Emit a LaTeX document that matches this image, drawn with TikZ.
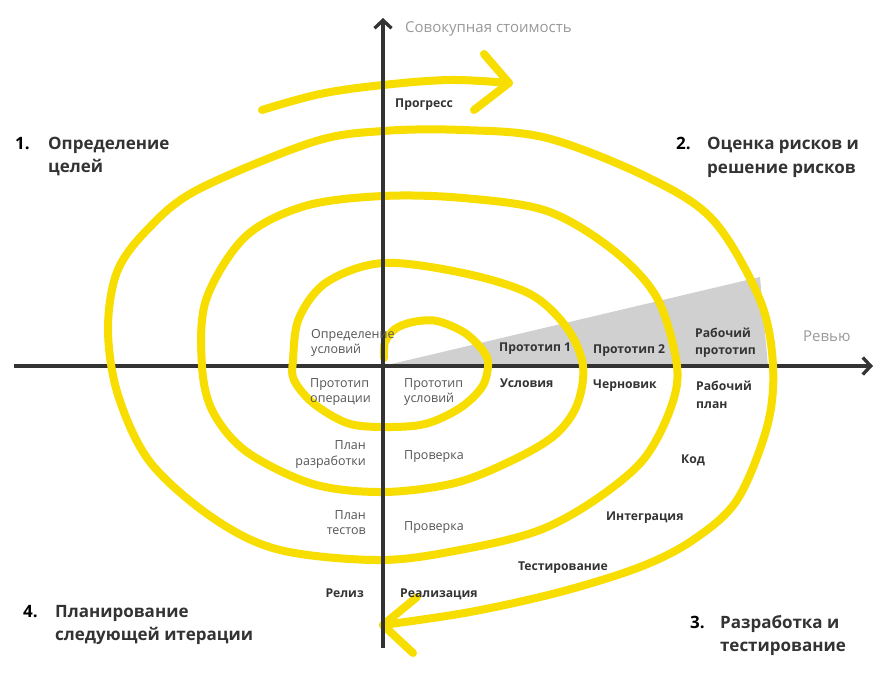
\documentclass[tikz,border=0pt]{standalone}
\usepackage{fontspec}
\setmainfont{Open Sans}
\usetikzlibrary{arrows.meta}
\definecolor{spiralyellow}{HTML}{F7DE00}
\definecolor{axisgray}{HTML}{333333}
\definecolor{wedgegray}{HTML}{D0D0D0}
\definecolor{labelgray}{HTML}{9A9A9A}
\definecolor{textdark}{HTML}{333333}
\definecolor{textlight}{HTML}{555555}
\begin{document}
\begin{tikzpicture}[x=1pt,y=-1pt,
  axisline/.style={draw=axisgray, line width=3.3pt, -{Straight Barb[length=8pt,width=17pt,line width=3.3pt]}},
  spiralline/.style={draw=spiralyellow, line width=8pt, line cap=round, line join=round},
  boldlabel/.style={font=\fontsize{12.2}{15}\selectfont\bfseries, text=textdark, inner sep=0pt},
  lightlabel/.style={font=\fontsize{12.5}{15}\selectfont, text=textlight, inner sep=0pt},
  axislabel/.style={font=\fontsize{15}{18}\selectfont, text=labelgray, inner sep=0pt, anchor=base west},
  heading/.style={font=\fontsize{17}{23}\selectfont\bfseries, text=textdark, inner sep=0pt, anchor=base west},
  headnum/.style={font=\fontsize{17}{23}\selectfont\bfseries, text=black, inner sep=0pt, anchor=base west},
]
\useasboundingbox (0,0) rectangle (883,680);
\fill[white] (0,0) rectangle (883,680);

% coordinates
\coordinate (o) at (383,366);
\coordinate (xl) at (14,366);
\coordinate (xr) at (873,366);
\coordinate (yb) at (383,648);
\coordinate (yt) at (383,18);
\coordinate (wa) at (760,277);
\coordinate (wb) at (768,366);

% grey wedge
\fill[wedgegray] (o) -- (wa) -- (wb) -- cycle;

% horizontal axis
\draw[axisline] (xl) -- (xr);

% spiral
\draw[spiralline] plot[smooth, tension=0.55] coordinates {
(384,358) (385,342) (395,329) (413,322) (437,321) (465,333) (484,352) (488,366)
(482,387) (460,408) (425,424) (383,427) (347,423) (313,403) (294,380) (293,360)
(299,318) (327,282) (383,263) (463,273) (530,294) (567,328) (583,366)
(577,405) (555,435) (513,460) (455,483) (383,492) (313,484) (247,452) (213,412) (202,366)
(206,300) (245,237) (305,206) (383,196) (463,198) (547,211) (613,250) (657,298) (677,366)
(670,410) (643,460) (595,500) (540,530) (470,548) (383,560) (280,550) (213,518) (150,462)
(118,395) (108,330) (117,272) (147,230) (197,190) (313,142) (383,131) (463,130) (547,138)
(647,177) (713,220) (760,300) (773,366) (767,427) (737,500) (693,540) (640,567) (560,592)
(470,612) (383,625)};
\coordinate (btip) at (383,625);
\coordinate (bup) at (417,597);
\coordinate (blo) at (413,653);
\draw[spiralline] (bup) -- (btip) -- (blo);

% progress arrow
\coordinate (ptip) at (509,83);
\coordinate (pup) at (484,54);
\coordinate (plo) at (474,110);
\draw[spiralline] plot[smooth, tension=0.6] coordinates {(262,110) (320,94) (383,85) (450,80) (509,83)};
\draw[spiralline] (pup) -- (ptip) -- (plo);

% vertical axis
\draw[axisline] (yb) -- (yt);

% axis labels
\node[axislabel] (cost) at (405,32) {Совокупная стоимость};
\node[axislabel] (review) at (803,341) {Ревью};

% light labels
\node[lightlabel, anchor=base west] (l1a) at (311,338) {Определение};
\node[lightlabel, anchor=base west] (l1b) at (311,353) {условий};
\node[lightlabel, anchor=base west] (l2a) at (310,387) {Прототип};
\node[lightlabel, anchor=base west] (l2b) at (310,402) {операции};
\node[lightlabel, anchor=base west] (l3a) at (404,387) {Прототип};
\node[lightlabel, anchor=base west] (l3b) at (404,402) {условий};
\node[lightlabel, anchor=base east] (l4a) at (366,449) {План};
\node[lightlabel, anchor=base east] (l4b) at (366,465) {разработки};
\node[lightlabel, anchor=base west] (l5) at (404,459) {Проверка};
\node[lightlabel, anchor=base east] (l6a) at (366,519) {План};
\node[lightlabel, anchor=base east] (l6b) at (366,534) {тестов};
\node[lightlabel, anchor=base west] (l7) at (404,530) {Проверка};

% bold labels
\node[boldlabel, anchor=base west] (b1) at (395,107) {Прогресс};
\node[boldlabel, anchor=base west] (b2) at (499,351) {Прототип 1};
\node[boldlabel, anchor=base west] (b3) at (593,353) {Прототип 2};
\node[boldlabel, anchor=base west] (b4a) at (695,337) {Рабочий};
\node[boldlabel, anchor=base west] (b4b) at (695,354) {прототип};
\node[boldlabel, anchor=base west] (b5) at (500,387) {Условия};
\node[boldlabel, anchor=base west] (b6) at (593,388) {Черновик};
\node[boldlabel, anchor=base west] (b7a) at (696,390) {Рабочий};
\node[boldlabel, anchor=base west] (b7b) at (696,408) {план};
\node[boldlabel, anchor=base west] (b8) at (681,463) {Код};
\node[boldlabel, anchor=base west] (b9) at (606,520) {Интеграция};
\node[boldlabel, anchor=base west] (b10) at (518,570) {Тестирование};
\node[boldlabel, anchor=base east] (b11) at (364,597) {Релиз};
\node[boldlabel, anchor=base west] (b12) at (400,597) {Реализация};

% headings
\node[headnum] (n1) at (15,149) {1.};
\node[heading] (h1a) at (48,149) {Определение};
\node[heading] (h1b) at (48,172) {целей};
\node[headnum] (n2) at (676,149) {2.};
\node[heading] (h2a) at (707,149) {Оценка рисков и};
\node[heading] (h2b) at (707,173) {решение рисков};
\node[headnum] (n3) at (690,628) {3.};
\node[heading] (h3a) at (720,628) {Разработка и};
\node[heading] (h3b) at (720,651) {тестирование};
\node[headnum] (n4) at (23,617) {4.};
\node[heading] (h4a) at (55,617) {Планирование};
\node[heading] (h4b) at (55,640) {следующей итерации};
\end{tikzpicture}
\end{document}
